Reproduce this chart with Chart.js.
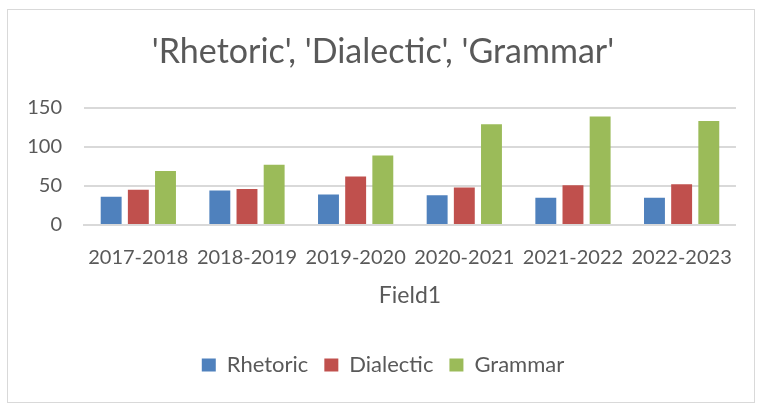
<!DOCTYPE html>
<html>
<head>
<meta charset="utf-8">
<script src="https://cdn.jsdelivr.net/npm/chart.js@4.4.0/dist/chart.umd.min.js"></script>
<style>
  html, body { margin: 0; padding: 0; background: #fff; }
  #wrap {
    position: absolute; left: 7px; top: 9px;
    width: 746px; height: 392px;
    border: 1px solid #d9d9d9;
  }
</style>
</head>
<body>
<div id="wrap"><canvas id="chart"></canvas></div>
<script>
const categories = ['2017-2018', '2018-2019', '2019-2020', '2020-2021', '2021-2022', '2022-2023'];
const rhetoric = [36, 44, 39, 38, 35, 35];
const dialectic = [45, 46, 62, 48, 51, 52];
const grammar = [69, 77, 89, 129, 139, 133];
const yTicks = [0, 50, 100, 150];

const textColor = '#595959';
const gridColor = '#d9d9d9';
const fontFamily = 'Lato, "Open Sans", sans-serif';

new Chart(document.getElementById('chart'), {
    type: 'bar',
    data: {
        labels: categories,
        datasets: [
            { label: 'Rhetoric', data: rhetoric, backgroundColor: '#4f81bd' },
            { label: 'Dialectic', data: dialectic, backgroundColor: '#c0504d' },
            { label: 'Grammar', data: grammar, backgroundColor: '#9bbb59' }
        ]
    },
    options: {
        responsive: true,
        maintainAspectRatio: false,
        animation: false,
        categoryPercentage: 0.75,
        barPercentage: 0.77,
        layout: { padding: { left: 19, right: 15, top: 0, bottom: 16 } },
        plugins: {
            title: {
                display: true,
                text: "'Rhetoric', 'Dialectic', 'Grammar'",
                color: textColor,
                font: { family: fontFamily, size: 34, weight: 'normal' },
                padding: { top: 22, bottom: 35 }
            },
            legend: {
                position: 'bottom',
                labels: {
                    color: textColor,
                    font: { family: fontFamily, size: 22 },
                    boxWidth: 14,
                    boxHeight: 13,
                    padding: 16
                }
            },
            tooltip: { enabled: false }
        },
        scales: {
            x: {
                afterFit: scale => { scale.height = 113; },
                grid: { display: false, drawTicks: false },
                border: { color: gridColor, width: 2 },
                ticks: {
                    color: textColor,
                    font: { family: fontFamily, size: 20 },
                    padding: 21,
                    maxRotation: 0,
                    autoSkip: false
                },
                title: {
                    display: true,
                    text: 'Field1',
                    color: textColor,
                    font: { family: fontFamily, size: 23 },
                    padding: { top: 0, bottom: 29 }
                }
            },
            y: {
                min: 0,
                max: 150,
                afterBuildTicks: scale => {
                    scale.ticks = yTicks.map(v => ({ value: v }));
                },
                afterFit: scale => { scale.width = 57; },
                grid: { color: gridColor, lineWidth: 2, drawTicks: false },
                border: { display: false },
                ticks: {
                    color: textColor,
                    font: { family: fontFamily, size: 20 },
                    padding: 22
                }
            }
        }
    }
});
</script>
</body>
</html>
